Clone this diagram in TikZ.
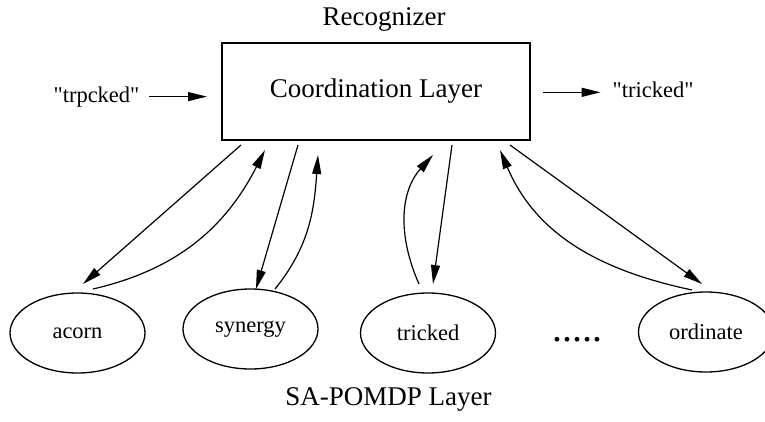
\documentclass[tikz,border=0pt]{standalone}
\usepackage{fontspec}
\setmainfont{Liberation Serif}[Ligatures=TeXOff]
\usetikzlibrary{calc,arrows.meta,shapes.geometric}
\begin{document}
\begin{tikzpicture}[x=1pt,y=-1pt,
  every node/.style={inner sep=0pt,outer sep=0pt},
  big/.style={font=\fontsize{27}{32}\selectfont},
  small/.style={font=\fontsize{22.5}{27}\selectfont},
  layerbox/.style={draw,line width=1.3pt,minimum width=308pt,minimum height=97pt,big},
  oval/.style={draw,ellipse,line width=1.3pt,minimum width=135pt,minimum height=80pt,small},
  arr/.style={line width=1.2pt,-{Triangle[length=19pt,width=9pt]}}]
\clip (0,0) rectangle (765,421);
\node[big] (title) at (384,19) {Recognizer};
\node[layerbox] (box) at (376,91.5) {Coordination Layer};
\node[big] (sa) at (388.5,399) {SA-POMDP Layer};
\node[small] (in) at (96.5,96.6) {"trpcked"};
\node[small] (out) at (653,89.5) {"tricked"};
\node[oval] (acorn) at (77.5,333) {acorn};
\node[oval] (synergy) at (250.5,329) {synergy};
\node[oval] (tricked) at (428,333) {tricked};
\node[oval] (ordinate) at (706,332) {ordinate};
\node[font=\fontsize{40}{40}\selectfont,anchor=base] (dots) at (577,341) {.....};
\draw[arr,shorten <=10pt,shorten >=15pt] (in.east) -- (in.east -| box.west);
\draw[arr,shorten <=13pt,shorten >=12pt] ([yshift=-2.8pt]box.east |- out.west) -- ([yshift=-2.8pt]out.west);
% acorn
\draw[arr] ($(box.south west)+(19,5)$) -- ($(acorn.center)+(5.5,-49)$);
\draw[arr] ($(acorn.center)+(15.5,-44)$) to[out=13,in=-117] ($(box.south west)+(43,10)$);
% synergy
\draw[arr] ($(box.south west)+(76,5)$) -- ($(synergy.center)+(5.5,-40)$);
\draw[arr] ($(synergy.center)+(24.5,-40)$) to[out=51,in=-94] ($(box.south west)+(96,15)$);
% tricked
\draw[arr] ($(tricked.center)+(-9,-49)$) to[out=114,in=-132] ($(box.south west)+(211,15)$);
\draw[arr] ($(box.south west)+(230,5)$) -- ($(tricked.center)+(5,-49)$);
% ordinate
\draw[arr] ($(ordinate.center)+(-14,-42)$) to[out=168,in=-67] ($(box.south west)+(278,10)$);
\draw[arr] ($(box.south west)+(288,5)$) -- ($(ordinate.center)+(-4,-48)$);
\end{tikzpicture}
\end{document}
